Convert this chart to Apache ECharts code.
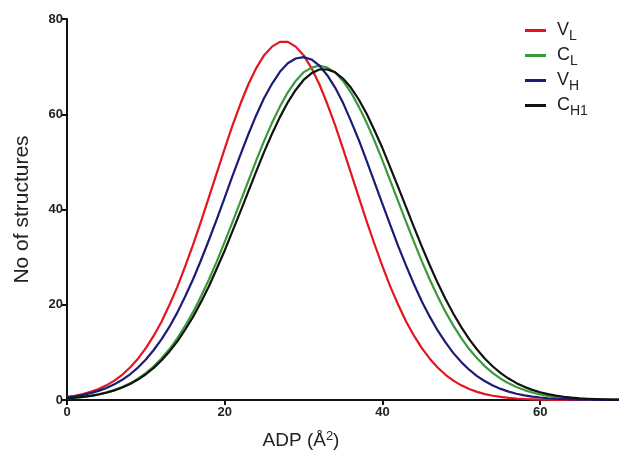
<!DOCTYPE html>
<html>
<head>
<meta charset="utf-8">
<script src="https://cdn.jsdelivr.net/npm/echarts@6/dist/echarts.min.js"></script>
<style>html,body{margin:0;padding:0;background:#fff;}#c{width:619px;height:455px;}</style>
</head>
<body>
<div id="c"></div>
<script>
var xValues = [0,1,2,3,4,5,6,7,8,9,10,11,12,13,14,15,16,17,18,19,20,21,22,23,24,25,26,27,28,29,30,31,32,33,34,35,36,37,38,39,40,41,42,43,44,45,46,47,48,49,50,51,52,53,54,55,56,57,58,59,60,61,62,63,64,65,66,67,68,69,70];
var VL  = [0.64,0.89,1.24,1.70,2.31,3.08,4.07,5.30,6.83,8.68,10.9,13.5,16.5,20.0,23.8,28.1,32.7,37.5,42.6,47.7,52.8,57.7,62.2,66.3,69.7,72.4,74.2,75.2,75.2,74.2,72.4,69.7,66.3,62.2,57.7,52.8,47.7,42.6,37.5,32.7,28.1,23.8,20.0,16.5,13.5,10.9,8.68,6.83,5.30,4.07,3.08,2.31,1.70,1.24,0.89,0.64,0.45,0.31,0.21,0.14,0.09,0.06,0.04,0.03,0.02,0.01,0.01,0,0,0,0];
var CL  = [0.34,0.47,0.65,0.88,1.18,1.58,2.08,2.71,3.50,4.47,5.65,7.07,8.75,10.7,13.0,15.6,18.5,21.8,25.3,29.1,33.2,37.4,41.7,46.0,50.3,54.4,58.2,61.6,64.6,67.0,68.8,69.8,70.2,69.8,68.8,67.0,64.6,61.6,58.2,54.4,50.3,46.0,41.7,37.4,33.2,29.1,25.3,21.8,18.5,15.6,13.0,10.7,8.75,7.07,5.65,4.47,3.50,2.71,2.08,1.58,1.18,0.88,0.65,0.47,0.34,0.24,0.17,0.12,0.08,0.06,0.04];
var VH  = [0.57,0.79,1.07,1.44,1.92,2.53,3.29,4.24,5.40,6.81,8.49,10.5,12.8,15.4,18.4,21.8,25.4,29.4,33.6,38.0,42.5,47.1,51.5,55.8,59.8,63.4,66.4,68.9,70.7,71.7,72.0,71.5,70.2,68.2,65.6,62.4,58.6,54.6,50.2,45.7,41.2,36.7,32.3,28.2,24.3,20.7,17.5,14.6,12.1,9.84,7.96,6.36,5.03,3.93,3.04,2.33,1.76,1.32,0.98,0.72,0.52,0.37,0.26,0.19,0.13,0.09,0.06,0.04,0.03,0.02,0.01];
var CH1 = [0.34,0.47,0.64,0.87,1.16,1.54,2.02,2.62,3.37,4.29,5.41,6.74,8.33,10.2,12.3,14.8,17.5,20.6,23.9,27.6,31.4,35.5,39.6,43.8,48.0,52.1,55.9,59.4,62.5,65.1,67.2,68.6,69.4,69.4,68.8,67.5,65.6,63.1,60.1,56.6,52.9,48.8,44.7,40.5,36.3,32.2,28.3,24.6,21.2,18.1,15.3,12.8,10.6,8.67,7.04,5.66,4.50,3.54,2.76,2.13,1.63,1.23,0.92,0.68,0.50,0.36,0.26,0.19,0.13,0.09,0.06];
var seriesNames = ['VL','CL','VH','CH1'];
var seriesLabels = {VL:['V','L'], CL:['C','L'], VH:['V','H'], CH1:['C','H1']};
var seriesColors = ['#e3161f','#3a9a3a','#1c1c78','#111111'];
var yTicks = [0,20,40,60,80];
var xTicks = [0,20,40,60];

function pairs(ys){ return xValues.map(function(x,i){ return [x, ys[i]]; }); }
var allData = [VL, CL, VH, CH1];
var FONT = 'Liberation Sans, Arial, sans-serif';

var chart = echarts.init(document.getElementById('c'), null, {renderer:'canvas'});
chart.setOption({
  backgroundColor: '#ffffff',
  animation: false,
  grid: {left: 67, right: 0, top: 19, bottom: 55, containLabel: false},
  legend: {
    orient: 'vertical',
    left: 520, top: 13,
    icon: 'rect',
    itemWidth: 21, itemHeight: 3, itemGap: 0,
    data: seriesNames,
    formatter: function(n){ var p = seriesLabels[n]; return '{m|' + p[0] + '}{s|' + p[1] + '}'; },
    textStyle: {
      color: '#222',
      rich: {
        m: {fontFamily: FONT, fontSize: 18, color: '#222', lineHeight: 23, padding: [0,0,0,6]},
        s: {fontFamily: FONT, fontSize: 14, color: '#222', lineHeight: 12, padding: [11,0,0,0]}
      }
    }
  },
  xAxis: {
    type: 'value', min: 0, max: 70, interval: 20,
    name: '{a|ADP (Å}{b|2}{a|)}', nameLocation: 'middle', nameGap: 30,
    nameTextStyle: {padding: [0, 84, 0, 0], rich: {
      a: {fontFamily: FONT, fontSize: 19, color: '#222'},
      b: {fontFamily: FONT, fontSize: 13, color: '#222', padding: [0,0,8,0]}
    }},
    axisLine: {onZero: false, lineStyle: {color: '#111', width: 2}},
    axisTick: {show: true, length: 5, lineStyle: {color: '#111', width: 2}},
    axisLabel: {fontFamily: FONT, fontWeight: 'bold', fontSize: 13, color: '#222', margin: 6, showMaxLabel: false,
      formatter: function(v){ return xTicks.indexOf(v) >= 0 ? String(v) : ''; }},
    splitLine: {show: false}
  },
  yAxis: {
    type: 'value', min: 0, max: 80, interval: 20,
    name: 'No of structures', nameLocation: 'middle', nameGap: 34, nameRotate: 90,
    nameTextStyle: {fontFamily: FONT, fontSize: 21, color: '#222'},
    axisLine: {show: true, lineStyle: {color: '#111', width: 2}},
    axisTick: {show: true, length: 5, lineStyle: {color: '#111', width: 2}},
    axisLabel: {fontFamily: FONT, fontWeight: 'bold', fontSize: 13, color: '#222', margin: 4,
      formatter: function(v){ return yTicks.indexOf(v) >= 0 ? String(v) : ''; }},
    splitLine: {show: false}
  },
  series: seriesNames.map(function(n, i){
    return {
      name: n, type: 'line', smooth: false, symbol: 'none',
      data: pairs(allData[i]),
      itemStyle: {color: seriesColors[i]},
      lineStyle: {color: seriesColors[i], width: 2.2, join: 'round'}
    };
  })
});
</script>
</body>
</html>
